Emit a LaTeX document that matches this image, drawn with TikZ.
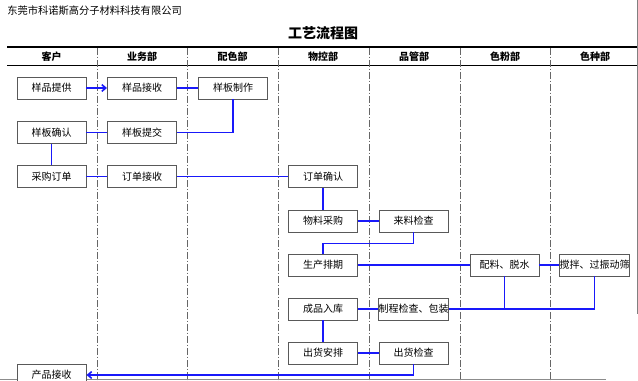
\documentclass[tikz,border=0pt]{standalone}
\usepackage{fontspec}
\newfontfamily\cjk{Noto Sans CJK SC}
\usetikzlibrary{arrows.meta}
\definecolor{flowblue}{RGB}{25,25,250}
\begin{document}
\begin{tikzpicture}[x=0.75pt,y=-0.75pt,
 box/.style={draw=black!65, line width=0.7pt, fill=white, minimum width=51.75pt, minimum height=16.5pt, inner sep=0pt, font=\cjk\fontsize{7.5}{9}\selectfont},
 head/.style={font=\cjk\bfseries\fontsize{7.5}{9}\selectfont},
 flow/.style={draw=flowblue, line width=1.2pt},
 sep/.style={draw=black!60, line width=0.6pt, dash pattern=on 5pt off 1.5pt on 1pt off 1.5pt},
 tip/.style={-{Straight Barb[length=3pt,width=5pt]}}
]
\useasboundingbox (0,0) rectangle (638,381);
\clip (0,0) rectangle (638,381);
% texts
\node[anchor=west, inner sep=0pt, font=\cjk\fontsize{7.7}{9}\selectfont] (co) at (7,11) {东莞市科诺斯高分子材料科技有限公司};
\node[font=\cjk\bfseries\fontsize{10.5}{12}\selectfont] (title) at (323,33) {工艺流程图};
% frame lines
\draw[line width=1.1pt] (7,47) -- (638,47);
\draw[line width=1.4pt] (7,65.5) -- (638,65.5);
\draw[black!50, line width=0.7pt] (637,0) -- (637,314);
\draw[black!45, line width=0.7pt] (0,379) -- (606,379);
\foreach \x in {97,187.5,278,369,460,550.5} \draw[sep] (\x,48) -- (\x,381);
% headers
\node[head] (h-1) at (51.5,57) {客户};
\node[head] (h-2) at (142,57) {业务部};
\node[head] (h-3) at (232.5,57) {配色部};
\node[head] (h-4) at (323,57) {物控部};
\node[head] (h-5) at (414,57) {品管部};
\node[head] (h-6) at (505,57) {色粉部};
\node[head] (h-7) at (595,57) {色种部};
% boxes
\node[box] (a1) at (51.5,88) {样品提供};
\node[box] (a2) at (142,88) {样品接收};
\node[box] (a3) at (233,88) {样板制作};
\node[box] (b1) at (51.5,132.5) {样板确认};
\node[box] (b2) at (142,132.5) {样板提交};
\node[box] (c1) at (51.5,176.5) {采购订单};
\node[box] (c2) at (142,176.5) {订单接收};
\node[box] (c4) at (323,176.5) {订单确认};
\node[box] (d4) at (323,221) {物料采购};
\node[box] (d5) at (413.5,221) {来料检查};
\node[box] (e4) at (323,265) {生产排期};
\node[box] (e6) at (504.5,265) {配料、脱水};
\node[box] (e7) at (594.5,265) {搅拌、过振动筛};
\node[box] (f4) at (323,309) {成品入库};
\node[box] (f5) at (413.5,309) {制程检查、包装};
\node[box] (g4) at (323,353) {出货安排};
\node[box] (g5) at (413.5,353) {出货检查};
\node[box] (h1) at (51.5,375) {产品接收};
% connectors
\draw[flow,tip] (a1.east) -- (a2.west);
\draw[flow] (a2) -- (a3);
\draw[flow] (a3.south) |- (b2.east);
\draw[flow] (b2) -- (b1);
\draw[flow] (b1) -- (c1);
\draw[flow] (c1) -- (c2);
\draw[flow] (c2) -- (c4);
\draw[flow] (c4) -- (d4);
\draw[flow] (d4) -- (d5);
\draw[flow] (d5.south) -- ++(0,11) -| (e4.north);
\draw[flow] (e4) -- (e6);
\draw[flow] (e6) -- (e7);
\draw[flow] (e7.south) |- (f5.east);
\draw[flow] (e6.south) -- (e6.south |- f5.east);
\draw[flow] (f5) -- (f4);
\draw[flow] (f4) -- (g4);
\draw[flow] (g4) -- (g5);
\draw[flow,tip] (g5.south) |- (h1.east);
\end{tikzpicture}
\end{document}
